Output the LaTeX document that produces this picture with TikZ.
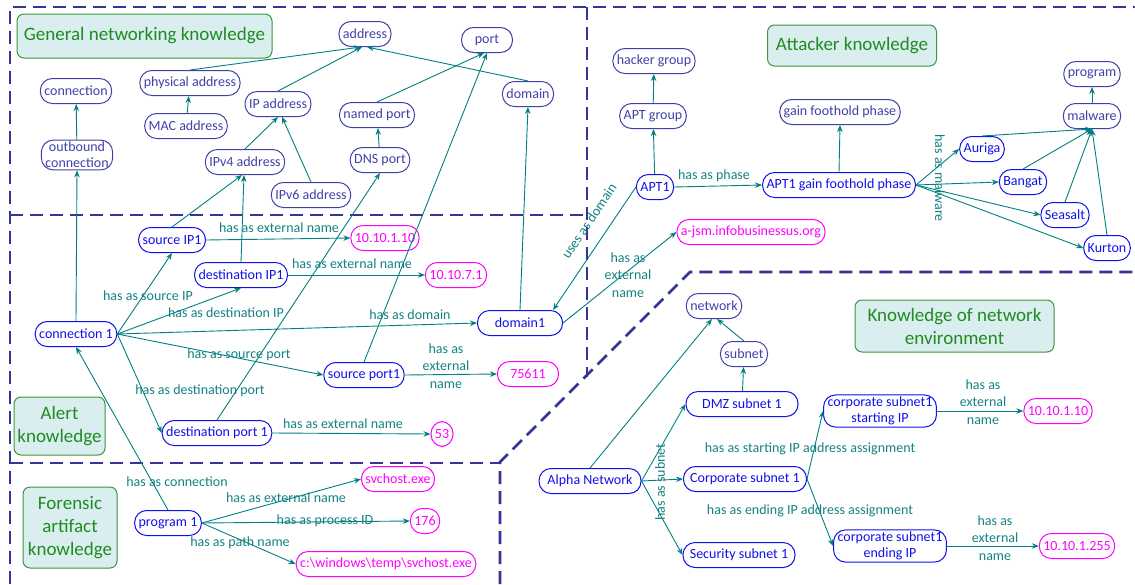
\documentclass[tikz,border=0pt]{standalone}
\usepackage{fontspec}
\setmainfont{Carlito}
\usetikzlibrary{arrows.meta,calc}
\definecolor{dashc}{RGB}{51,51,153}
\definecolor{clsc}{RGB}{64,64,168}
\definecolor{insc}{RGB}{16,16,235}
\definecolor{litc}{RGB}{255,0,255}
\definecolor{edgec}{RGB}{0,128,128}
\definecolor{lblc}{RGB}{20,130,130}
\definecolor{boxfill}{RGB}{218,238,240}
\definecolor{boxdraw}{RGB}{60,150,60}
\definecolor{boxtext}{RGB}{30,140,30}
\tikzset{
 base/.style={rounded corners=12pt, minimum height=25pt, inner xsep=4pt, inner ysep=2pt, line width=1pt, font=\fontsize{14}{16}\selectfont, align=center},
 cls/.style={base, draw=clsc, text=clsc},
 ins/.style={base, draw=insc, text=insc},
 lit/.style={base, draw=litc, text=litc},
 kbox/.style={rounded corners=7pt, draw=boxdraw, fill=boxfill, text=boxtext, line width=1pt, font=\fontsize{19}{23}\selectfont, align=center, inner sep=0pt},
 rel/.style={draw=edgec, line width=0.9pt, -{Stealth[length=7pt,width=5.5pt]}},
 lbl/.style={text=lblc, font=\fontsize{14}{17.5}\selectfont, align=center, inner sep=1pt},
 region/.style={draw=dashc, line width=2.8pt, dash pattern=on 13pt off 7pt},
}
\begin{document}
\begin{tikzpicture}[x=1pt,y=-1pt]
\useasboundingbox (0,0) rectangle (1135,584);
% regions
\draw[region] (10,584) -- (10,7) -- (1135,7);
\draw[region] (10,215) -- (587,215);
\draw[region] (587,7) -- (587,377);
\draw[region] (10,463) -- (500,463);
\draw[region] (500,584) -- (500,462) -- (690,272) -- (1135,272);
% knowledge boxes
\node[kbox, minimum width=255pt, minimum height=44pt] (kgen) at (144.5,36) {General networking knowledge};
\node[kbox, minimum width=169pt, minimum height=41pt] (katt) at (852,45.5) {Attacker knowledge};
\node[kbox, minimum width=91pt, minimum height=58pt] (kalert) at (59.5,426) {Alert\\knowledge};
\node[kbox, minimum width=94pt, minimum height=81pt] (kfor) at (70,527.5) {Forensic\\artifact\\knowledge};
\node[kbox, minimum width=199pt, minimum height=52pt] (kenv) at (954.5,326) {Knowledge of network\\environment};
% class nodes
\node[cls] (conn) at (76,91) {connection};
\node[cls] (outb) at (77,155) {outbound\\connection};
\node[cls] (phys) at (190,83) {physical address};
\node[cls] (mac) at (186,126) {MAC address};
\node[cls] (ipa) at (278,104) {IP address};
\node[cls] (ipv4) at (245,162) {IPv4 address};
\node[cls] (ipv6) at (311,195) {IPv6 address};
\node[cls] (addr) at (365,34) {address};
\node[cls, minimum width=51pt] (port) at (487,40) {port};
\node[cls] (nport) at (377,115) {named port};
\node[cls] (dns) at (380,160) {DNS port};
\node[cls] (dom) at (528,94) {domain};
\node[cls] (hg) at (654,61) {hacker group};
\node[cls] (aptg) at (653,116) {APT group};
\node[cls] (gfp) at (840,112) {gain foothold phase};
\node[cls] (prog) at (1092,74) {program};
\node[cls] (mal) at (1092,116) {malware};
\node[cls] (net) at (714,306) {network};
\node[cls] (sub) at (744,354) {subnet};
% instance nodes
\node[ins] (apt1) at (655,187) {APT1};
\node[ins] (aptp) at (839,185) {APT1 gain foothold phase};
\node[ins] (aur) at (982,149) {Auriga};
\node[ins] (ban) at (1023,182) {Bangat};
\node[ins] (sea) at (1065,215) {Seasalt};
\node[ins] (kur) at (1107,248) {Kurton};
\node[ins] (sip) at (172,240) {source IP1};
\node[ins] (dip) at (241,275) {destination IP1};
\node[ins] (c1) at (76,334) {connection 1};
\node[ins] (dp1) at (217,433) {destination port 1};
\node[ins, minimum width=85pt] (d1) at (520,323) {domain1};
\node[ins] (sp1) at (364,375) {source port1};
\node[ins] (p1) at (168,523) {program 1};
\node[ins, minimum width=102pt] (alpha) at (590,481) {Alpha Network};
\node[ins, minimum width=112pt] (dmz) at (742,404) {DMZ subnet 1};
\node[ins, minimum width=123pt] (corp) at (745,479) {Corporate subnet 1};
\node[ins, minimum width=112pt] (sec) at (739,555) {Security subnet 1};
\node[ins] (cstart) at (880,411) {corporate subnet1\\starting IP};
\node[ins] (cend) at (890,546) {corporate subnet1\\ending IP};
% literal nodes
\node[lit] (ip1) at (385,238) {10.10.1.10};
\node[lit] (ip2) at (456,275) {10.10.7.1};
\node[lit, minimum width=61pt] (p75) at (528,374) {75611};
\node[lit, inner xsep=2pt, minimum width=22pt] (p53) at (442,434) {53};
\node[lit] (ajsm) at (751,232) {a-jsm.infobusinessus.org};
\node[lit] (svc) at (398,479) {svchost.exe};
\node[lit] (pid) at (425,521) {176};
\node[lit] (path) at (386,564) {c:\textbackslash windows\textbackslash temp\textbackslash svchost.exe};
\node[lit] (ip3) at (1058,411) {10.10.1.10};
\node[lit] (ip4) at (1077,546) {10.10.1.255};
% general edges
\draw[rel] (outb) -- (conn);
\draw[rel] (c1.north) -- (outb.south);
\draw[rel] (mac) -- (phys);
\draw[rel] (phys.north) -- ([xshift=-4pt]addr.south);
\draw[rel] (ipa.north) -- ([xshift=-3pt]addr.south);
\draw[rel] (ipv4.north) -- (ipa.south);
\draw[rel] (ipv6.north) -- ([xshift=4pt]ipa.south);
\draw[rel] (sip.north) -- ([xshift=-3pt]ipv4.south);
\draw[rel] (dip.north) -- ([xshift=-1pt]ipv4.south);
\draw[rel] (dom.north) -- ([xshift=2pt]addr.south);
\draw[rel] (nport.north) -- ([xshift=-3pt]port.south);
\draw[rel] (sp1.north) -- (port.south);
\draw[rel] (dns) -- (nport);
\draw[rel] (dp1.north) -- (dns.south);
\draw[rel] (d1.north) -- (dom.south);
% alert edges
\draw[rel] (c1.east) -- (sip.south);
\draw[rel] (c1.east) -- (dip.south);
\draw[rel] (c1.east) -- (d1.west);
\draw[rel] (c1.east) -- (sp1.west);
\draw[rel] (c1.east) -- (dp1.west);
\node[lbl] (l1) at (148,296) {has as source IP};
\node[lbl] (l2) at (226,313) {has as destination IP};
\node[lbl] (l3) at (410,315) {has as domain};
\node[lbl] (l4) at (239,355) {has as source port};
\node[lbl] (l5) at (200,391) {has as destination port};
\draw[rel] (sip.east) -- (ip1.west);
\node[lbl] (l6) at (279,228) {has as external name};
\draw[rel] (dip.east) -- (ip2.west);
\node[lbl] (l7) at (352,264) {has as external name};
\draw[rel] (sp1.east) -- (p75.west);
\node[lbl] (l8) at (446,366) {has as\\external\\name};
\draw[rel] (dp1.east) -- (p53.west);
\node[lbl] (l9) at (343,424) {has as external name};
% attacker edges
\draw[rel] (apt1.west) -- ([xshift=-10pt]d1.north east);
\node[lbl, rotate=56] (l10) at (589,221) {uses as domain};
\draw[rel] (d1.east) -- (ajsm.west);
\node[lbl] (l11) at (628,275) {has as\\external\\name};
\draw[rel] (apt1) -- (aptg);
\draw[rel] (aptg) -- (hg);
\draw[rel] (apt1.east) -- (aptp.west);
\node[lbl] (l12) at (714,176) {has as phase};
\draw[rel] (aptp.north) -- (gfp.south);
\draw[rel] (aptp.east) -- (aur.west);
\draw[rel] (aptp.east) -- (ban.west);
\draw[rel] (aptp.east) -- (sea.west);
\draw[rel] (aptp.east) -- (kur.west);
\node[lbl, rotate=-90] (l13) at (940,178) {has as malware};
\draw[rel] (aur.north) -- (mal.south);
\draw[rel] (ban.north) -- (mal.south);
\draw[rel] (sea.north) -- (mal.south);
\draw[rel] (kur.north) -- (mal.south);
\draw[rel] (mal) -- (prog);
% forensic edges
\draw[rel] (p1.north) -- (c1.south);
\node[lbl] (l14) at (177,482) {has as connection};
\draw[rel] (p1.east) -- (svc.west);
\node[lbl] (l15) at (286,498) {has as external name};
\draw[rel] (p1.east) -- (pid.west);
\node[lbl] (l16) at (325,521) {has as process ID};
\draw[rel] (p1.east) -- (path.west);
\node[lbl] (l17) at (240,543) {has as path name};
% network environment edges
\draw[rel] (alpha.north) -- ([xshift=-2pt]net.south);
\draw[rel] (sub.north) -- ([xshift=3pt]net.south);
\draw[rel] (dmz) -- (sub);
\draw[rel] (alpha.east) -- (dmz.west);
\draw[rel] (alpha.east) -- (corp.west);
\draw[rel] (alpha.east) -- (sec.west);
\node[lbl, rotate=90] (l18) at (660,482) {has as subnet};
\draw[rel] (corp.east) -- (cstart.west);
\node[lbl] (l19) at (810,449) {has as starting IP address assignment};
\draw[rel] (corp.east) -- (cend.west);
\node[lbl] (l20) at (810,511) {has as ending IP address assignment};
\draw[rel] (cstart) -- (ip3);
\node[lbl] (l21) at (983,402) {has as\\external\\name};
\draw[rel] (cend) -- (ip4);
\node[lbl] (l22) at (995,538) {has as\\external\\name};
\end{tikzpicture}
\end{document}
